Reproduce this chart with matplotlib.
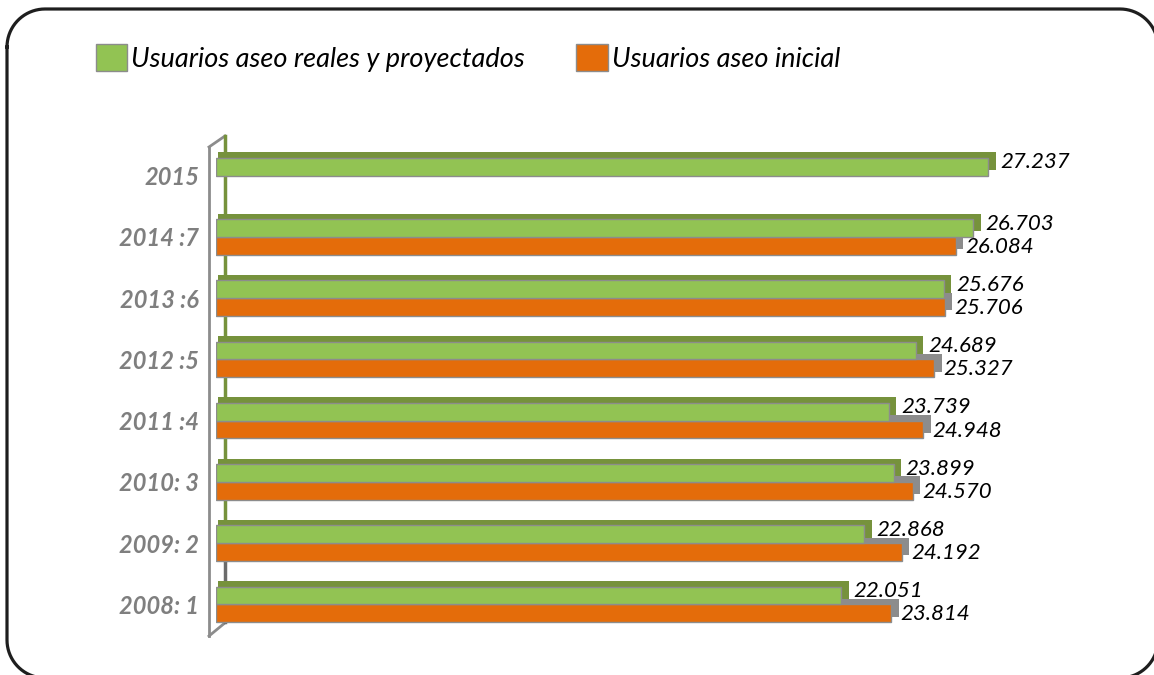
import matplotlib
matplotlib.use("Agg")
import matplotlib.pyplot as plt
import numpy as np
from matplotlib.patches import Patch
from matplotlib.lines import Line2D

# datos
categorias = ["2008: 1", "2009: 2", "2010: 3", "2011 :4", "2012 :5", "2013 :6", "2014 :7", "2015"]
reales = [22051, 22868, 23899, 23739, 24689, 25676, 26703, 27237]
inicial = [23814, 24192, 24570, 24948, 25327, 25706, 26084, np.nan]
etiqueta_reales = "Usuarios aseo reales y proyectados"
etiqueta_inicial = "Usuarios aseo inicial"

verde = "#92C353"
verde_osc = "#76923C"
naranja = "#E46C0A"
gris = "#8C8C8C"
gris_osc = "#7F7F7F"

plt.rcParams["font.family"] = ["Lato", "DejaVu Sans"]

W, H = 1154, 675
fig = plt.figure(figsize=(W / 100, H / 100), dpi=100)

# capa de fondo en pixeles (y hacia arriba) para el marco y la pared lateral
fondo = fig.add_axes([0, 0, 1, 1])
fondo.set_xlim(0, W)
fondo.set_ylim(0, H)
fondo.axis("off")

def linea(xs, ys, **kw):
    fondo.add_line(Line2D(xs, [H - v for v in ys], **kw))

# marco redondeado (segmentos rectos y arcos)
x0, x1, y0, y1, rad = 7, 1158, 9, 678, 38
t = np.linspace(0, np.pi / 2, 20)
mx = np.concatenate([x0 + rad - rad * np.cos(t), x1 - rad + rad * np.sin(t),
                     x1 - rad + rad * np.cos(t), x0 + rad - rad * np.sin(t), [x0]])
my = np.concatenate([y0 + rad - rad * np.sin(t), y0 + rad - rad * np.cos(t),
                     y1 - rad + rad * np.sin(t), y1 - rad + rad * np.cos(t), [y0 + rad]])
linea(mx, my, color="#1e1e1e", lw=2.3, solid_joinstyle="round")

linea([209, 209], [147, 636], color=gris, lw=2)
linea([209, 225], [147, 136], color=gris, lw=2)
linea([209, 226], [636, 622], color=gris, lw=2)
linea([225, 225], [136, 560], color=verde_osc, lw=2.5)
linea([225, 225], [560, 622], color="#6b6b6b", lw=2.5)

ax = fig.add_axes([216 / W, 40 / H, 879 / W, 490 / H])
ax.set_xlim(0, 31000)
ax.set_ylim(-0.5, len(categorias) - 0.5)
ax.patch.set_alpha(0)

y = np.arange(len(categorias))
alto = 0.29
dx, dy = 200, 0.09

# sombras y barras (efecto 3D)
ax.barh(y - alto / 2 + dy, np.array(inicial) + dx, height=alto, left=dx * 0.3,
        color=gris, edgecolor="none", zorder=2)
ax.barh(y - alto / 2, inicial, height=alto, color=naranja, edgecolor=gris,
        linewidth=1, zorder=3)
ax.barh(y + alto / 2 + dy, np.array(reales) + dx, height=alto, left=dx * 0.3,
        color=verde_osc, edgecolor="none", zorder=4)
ax.barh(y + alto / 2, reales, height=alto, color=verde, edgecolor=gris,
        linewidth=1, zorder=5)

def fmt(v):
    return f"{int(v):,}".replace(",", ".")

for k in range(len(categorias)):
    ax.text(reales[k] + 420, y[k] + alto / 2 + 0.07, fmt(reales[k]),
            fontsize=16, style="italic", color="black", va="center", ha="left", zorder=6)
    if not np.isnan(inicial[k]):
        ax.text(inicial[k] + 330, y[k] - alto / 2 - 0.02, fmt(inicial[k]),
                fontsize=16, style="italic", color="black", va="center", ha="left", zorder=6)

ax.set_yticks(y)
ax.set_yticklabels(categorias, fontsize=17, style="italic", color=gris_osc, weight="bold")
ax.tick_params(axis="y", length=0, pad=12)
ax.set_xticks([])
for s in ax.spines.values():
    s.set_visible(False)

# leyenda
manejadores = [Patch(facecolor=verde, edgecolor=gris, label=etiqueta_reales),
               Patch(facecolor=naranja, edgecolor=gris, label=etiqueta_inicial)]
fig.legend(handles=manejadores, loc="center left", bbox_to_anchor=(77 / W, 1 - 58 / H),
           ncol=2, frameon=False, prop={"size": 19.5, "style": "italic"},
           handlelength=1.15, handleheight=1.15, handletextpad=0.15, columnspacing=1.9,
           borderpad=0.2)

fig.savefig("out.png", dpi=100)
